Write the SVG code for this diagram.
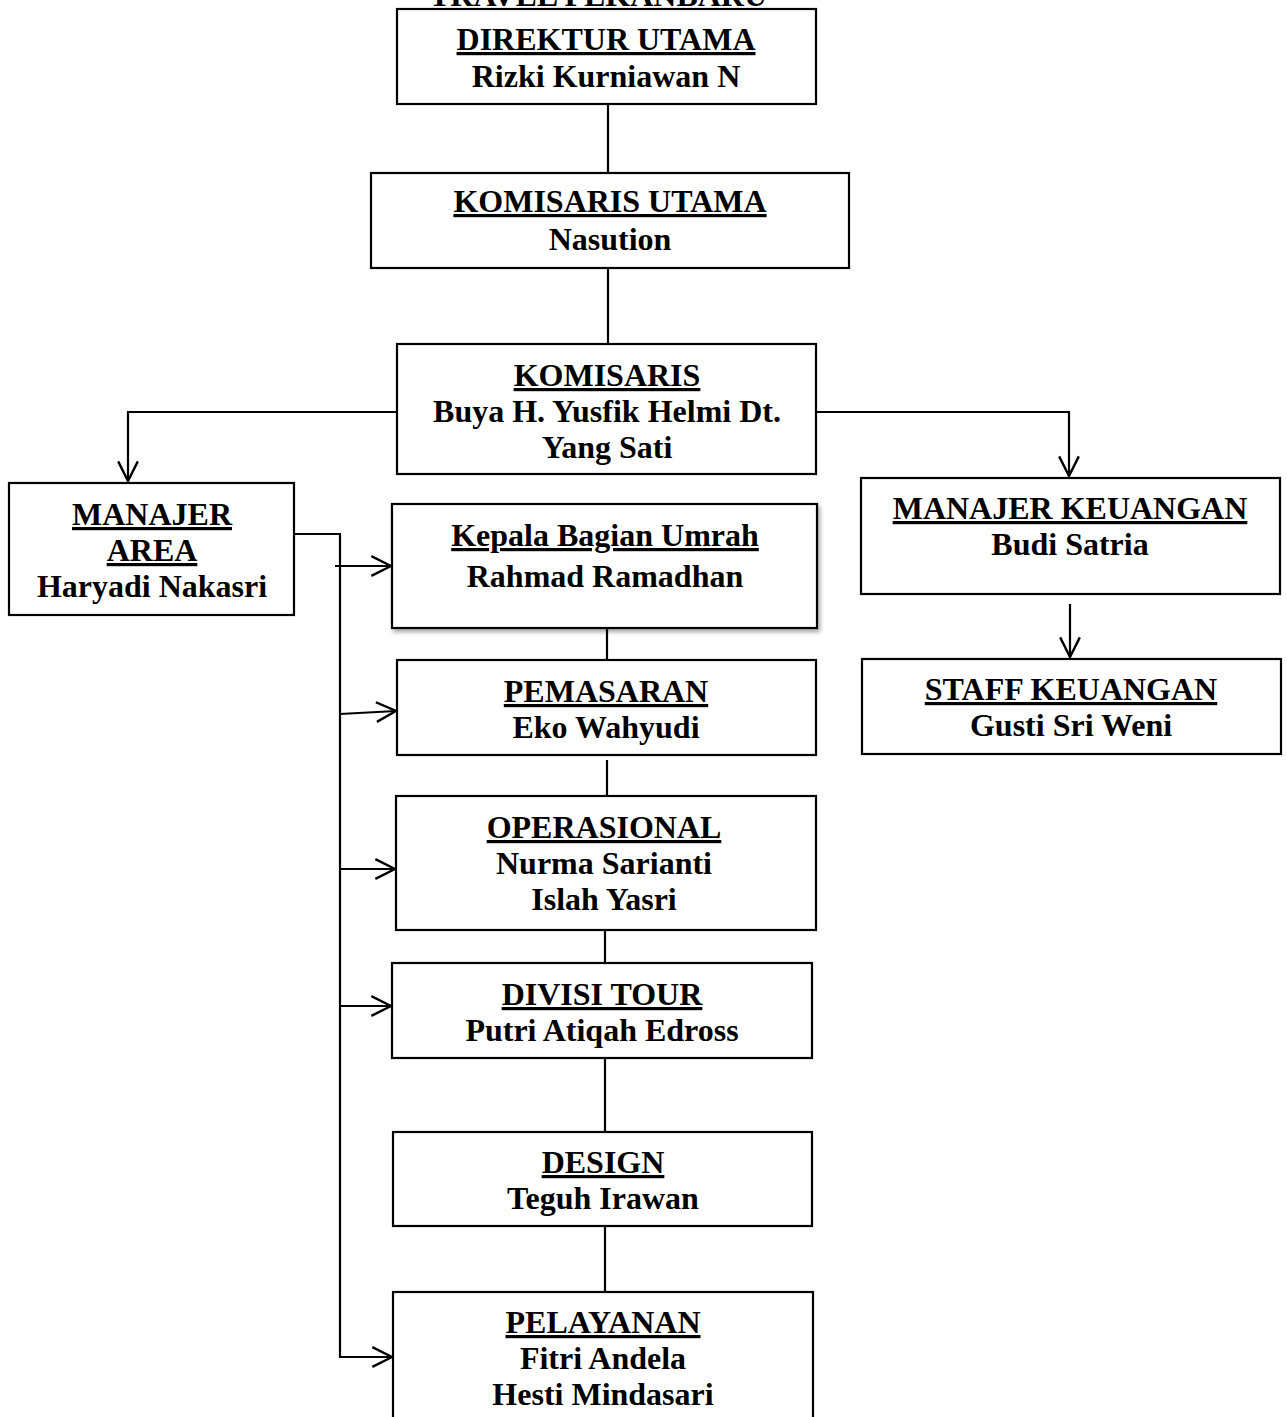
<svg xmlns="http://www.w3.org/2000/svg" width="1287" height="1417" viewBox="0 0 1287 1417">
<style>
.box{fill:#fff;stroke:#000;stroke-width:2.2}
.t{font-family:"Liberation Serif","Times New Roman",serif;font-weight:bold;font-size:32px;text-anchor:middle;fill:#000}
.u{text-decoration:underline}
.c{fill:none;stroke:#000;stroke-width:2.2}
</style>
<defs>
<marker id="arr" markerUnits="userSpaceOnUse" markerWidth="24" markerHeight="24" refX="20" refY="10" orient="auto" viewBox="0 0 22 20">
<path d="M2,1 L20,10 L2,19" fill="none" stroke="#000" stroke-width="2.2"/>
</marker>
<filter id="sh" x="-5%" y="-10%" width="115%" height="130%">
<feDropShadow dx="2" dy="3" stdDeviation="2" flood-color="#000" flood-opacity="0.35"/>
</filter>
</defs>
<rect width="1287" height="1417" fill="#fff"/>
<text class="t" x="598" y="6">TRAVEL PEKANBARU</text>
<g id="connectors">
<path class="c" d="M608,104 V173"/>
<path class="c" d="M608,268 V344"/>
<path class="c" d="M397,412 H128 V481" marker-end="url(#arr)"/>
<path class="c" d="M816,412 H1069 V476" marker-end="url(#arr)"/>
<path class="c" d="M1070,604 V657" marker-end="url(#arr)"/>
<path class="c" d="M294,534 H340 V1357 H392" marker-end="url(#arr)"/>
<path class="c" d="M335,566 H391" marker-end="url(#arr)"/>
<path class="c" d="M340,714 L396,711" marker-end="url(#arr)"/>
<path class="c" d="M340,869 H395" marker-end="url(#arr)"/>
<path class="c" d="M340,1006 H391" marker-end="url(#arr)"/>
<path class="c" d="M607,628 V660"/>
<path class="c" d="M607,760 V796"/>
<path class="c" d="M605,930 V963"/>
<path class="c" d="M605,1058 V1132"/>
<path class="c" d="M605,1226 V1292"/>
</g>
<g id="direktur-utama">
<rect class="box" x="397" y="9" width="419" height="95"/>
<text class="t u" x="606" y="50">DIREKTUR UTAMA</text>
<text class="t" x="606" y="87">Rizki Kurniawan N</text>
</g>
<g id="komisaris-utama">
<rect class="box" x="371" y="173" width="478" height="95"/>
<text class="t u" x="610" y="212">KOMISARIS UTAMA</text>
<text class="t" x="610" y="250">Nasution</text>
</g>
<g id="komisaris">
<rect class="box" x="397" y="344" width="419" height="130"/>
<text class="t u" x="607" y="386">KOMISARIS</text>
<text class="t" x="607" y="422">Buya H. Yusfik Helmi Dt.</text>
<text class="t" x="607" y="458">Yang Sati</text>
</g>
<g id="manajer-area">
<rect class="box" x="9" y="483" width="285" height="132"/>
<text class="t u" x="152" y="525">MANAJER</text>
<text class="t u" x="152" y="561">AREA</text>
<text class="t" x="152" y="597">Haryadi Nakasri</text>
</g>
<g id="kepala-bagian-umrah">
<rect class="box" x="392" y="504" width="425" height="124" filter="url(#sh)"/>
<text class="t u" x="605" y="546">Kepala Bagian Umrah</text>
<text class="t" x="605" y="587">Rahmad Ramadhan</text>
</g>
<g id="pemasaran">
<rect class="box" x="397" y="660" width="419" height="95"/>
<text class="t u" x="606" y="702">PEMASARAN</text>
<text class="t" x="606" y="738">Eko Wahyudi</text>
</g>
<g id="operasional">
<rect class="box" x="396" y="796" width="420" height="134"/>
<text class="t u" x="604" y="838">OPERASIONAL</text>
<text class="t" x="604" y="874">Nurma Sarianti</text>
<text class="t" x="604" y="910">Islah Yasri</text>
</g>
<g id="divisi-tour">
<rect class="box" x="392" y="963" width="420" height="95"/>
<text class="t u" x="602" y="1005">DIVISI TOUR</text>
<text class="t" x="602" y="1041">Putri Atiqah Edross</text>
</g>
<g id="design">
<rect class="box" x="393" y="1132" width="419" height="94"/>
<text class="t u" x="603" y="1173">DESIGN</text>
<text class="t" x="603" y="1209">Teguh Irawan</text>
</g>
<g id="pelayanan">
<rect class="box" x="393" y="1292" width="420" height="140"/>
<text class="t u" x="603" y="1333">PELAYANAN</text>
<text class="t" x="603" y="1369">Fitri Andela</text>
<text class="t" x="603" y="1405">Hesti Mindasari</text>
</g>
<g id="manajer-keuangan">
<rect class="box" x="861" y="478" width="419" height="116"/>
<text class="t u" x="1070" y="519">MANAJER KEUANGAN</text>
<text class="t" x="1070" y="555">Budi Satria</text>
</g>
<g id="staff-keuangan">
<rect class="box" x="862" y="659" width="419" height="95"/>
<text class="t u" x="1071" y="700">STAFF KEUANGAN</text>
<text class="t" x="1071" y="736">Gusti Sri Weni</text>
</g>
</svg>
